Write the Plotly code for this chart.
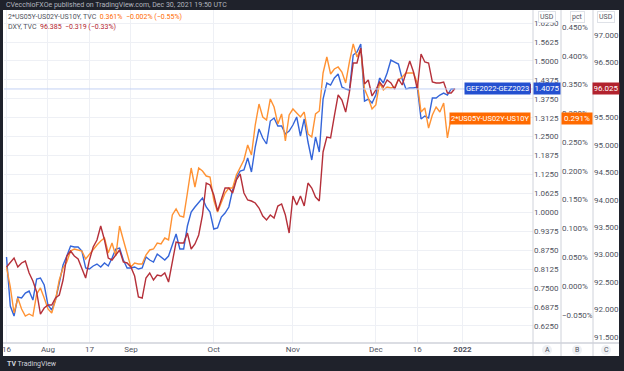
import pandas as pd
import plotly.graph_objects as go

# ---------------- data ----------------
dates = pd.bdate_range("2021-07-16", "2021-12-30")

# GEF2022-GEZ2023 (USD, left-most right axis "A")
ed_spread = [
    0.8527, 0.6909, 0.6579, 0.7206, 0.7173, 0.7338, 0.7404, 0.7107, 0.7801, 0.7834,
    0.7603, 0.6942, 0.6777, 0.7107, 0.7669, 0.8263, 0.8560, 0.8890, 0.8857, 0.8857,
    0.8725, 0.8164, 0.8131, 0.8230, 0.8296, 0.8197, 0.8329, 0.8230, 0.8494, 0.8791,
    0.8824, 0.8428, 0.8164, 0.8164, 0.8197, 0.8131, 0.8164, 0.8527, 0.8428, 0.8362,
    0.8626, 0.8527, 0.8428, 0.8560, 0.8890, 0.9286, 0.8791, 0.8791, 0.9550, 1.0013,
    1.0178, 1.0310, 1.0475, 1.0178, 1.0013, 0.9451, 0.9484, 0.9848, 0.9980, 1.0178,
    1.0739, 1.1135, 1.1366, 1.1399, 1.1795, 1.1333, 1.2159, 1.2753, 1.2456, 1.2258,
    1.3017, 1.3116, 1.2852, 1.2852, 1.2588, 1.2687, 1.2885, 1.3149, 1.2522, 1.3083,
    1.2324, 1.1730, 1.2489, 1.1993, 1.3743, 1.4271, 1.4205, 1.4436, 1.4569, 1.4139,
    1.4074, 1.4040, 1.5196, 1.5295, 1.5559, 1.3677, 1.3743, 1.3611, 1.3875, 1.4436,
    1.4271, 1.4602, 1.5031, 1.4965, 1.4899, 1.4403, 1.4074, 1.4107, 1.4107, 1.4139,
    1.3083, 1.3182, 1.3116, 1.3776, 1.3776, 1.3875, 1.3941, 1.3875, 1.4074, 1.4075,
]

# 2*US05Y-US02Y-US10Y (pct, axis "B")
yield_fly = [
    0.0330, -0.0017, -0.0469, -0.0208, -0.0399, -0.0521, -0.0486, -0.0521, -0.0139, -0.0034,
    -0.0208, -0.0399, -0.0469, -0.0243, 0.0105, 0.0313, 0.0417, 0.0608, 0.0643, 0.0626,
    0.0608, 0.0469, 0.0556, 0.0643, 0.0713, 0.0782, 0.0834, 0.0574, 0.0747, 0.0522,
    0.1043, 0.0800, 0.0539, 0.0330, 0.0400, 0.0383, 0.0383, 0.0539, 0.0626, 0.0643,
    0.0747, 0.0730, 0.0834, 0.0800, 0.1234, 0.1338, 0.1217, 0.1199, 0.1616, 0.2050,
    0.1720, 0.2050, 0.1998, 0.1911, 0.1894, 0.1494, 0.1286, 0.1460, 0.1616, 0.1703,
    0.1703, 0.1929, 0.2068, 0.2189, 0.2450, 0.2276, 0.2797, 0.3162, 0.2936, 0.2884,
    0.3249, 0.3110, 0.2815, 0.2989, 0.2519, 0.2971, 0.3075, 0.3006, 0.2936, 0.3023,
    0.2641, 0.2589, 0.2989, 0.3041, 0.3701, 0.3979, 0.3683, 0.3770, 0.3805, 0.3718,
    0.3527, 0.3892, 0.4205, 0.3979, 0.4118, 0.3423, 0.3267, 0.3075, 0.3145, 0.3527,
    0.3406, 0.3458, 0.3440, 0.3458, 0.3579, 0.3631, 0.3701, 0.3701, 0.3701, 0.3527,
    0.3023, 0.3093, 0.2745, 0.2971, 0.3110, 0.3023, 0.3180, 0.2572, 0.2936, 0.2910,
]

# DXY (USD, axis "C")
dxy = [
    92.774, 92.847, 92.938, 92.774, 92.847, 92.883, 92.665, 92.519, 92.319, 91.918,
    92.027, 92.082, 92.082, 92.209, 92.264, 92.537, 92.974, 93.066, 92.974, 92.920,
    92.756, 92.574, 92.902, 93.138, 93.266, 93.521, 93.266, 92.938, 92.902, 92.993,
    93.084, 92.865, 92.847, 92.774, 92.610, 92.228, 92.209, 92.574, 92.665, 92.537,
    92.628, 92.610, 92.665, 92.501, 92.865, 93.229, 93.211, 93.211, 93.393, 93.102,
    93.193, 93.357, 93.721, 94.304, 94.268, 94.086, 93.794, 93.995, 94.213, 94.213,
    94.122, 94.359, 94.468, 94.122, 93.995, 93.976, 93.940, 93.849, 93.703, 93.630,
    93.721, 93.667, 93.885, 93.922, 93.721, 93.393, 94.067, 93.903, 94.067, 93.885,
    94.304, 94.213, 94.049, 93.976, 94.869, 95.142, 95.124, 95.525, 95.907, 95.816,
    95.597, 95.962, 96.490, 96.490, 96.763, 96.107, 96.180, 95.889, 95.998, 96.144,
    96.053, 96.180, 96.126, 96.016, 96.199, 96.089, 96.326, 96.526, 96.326, 96.016,
    96.654, 96.508, 96.490, 96.144, 96.126, 96.126, 96.144, 95.944, 95.944, 96.025,
]

x_tick_dates = ["2021-07-16", "2021-08-02", "2021-08-17", "2021-09-01", "2021-10-01",
                "2021-11-01", "2021-12-01", "2021-12-16", "2022-01-03"]
x_tick_labels = ["16", "Aug", "17", "Sep", "Oct", "Nov", "Dec", "16", "<b>2022</b>"]

name_a = "GEF2022-GEZ2023"
name_b = "2*US05Y-US02Y-US10Y"
name_c = "DXY"

# ---------------- styling ----------------
W, H = 624, 371
def fx(p):
    return p / W
def fy(p):
    return 1 - p / H

BLUE = "#3465d9"
BLUE_LBL = "#2450d0"
ORANGE = "#ff9233"
ORANGE_LBL = "#ff6a00"
RED = "#b5303a"
RED_LBL = "#b2222e"
DARK = "#1f222b"
GRID = "#eef0f5"
SEP = "#cfd2da"
TXT = "#50535e"
FONT = "Roboto"

PLOT_L, PLOT_R, PLOT_T, PLOT_B = 4, 533, 10, 343
AX_B, AX_C, RIGHT = 561, 593, 619

fig = go.Figure()
fig.add_trace(go.Scatter(x=dates, y=yield_fly, yaxis="y2", mode="lines",
                         line=dict(color=ORANGE, width=1.4), name=name_b))
fig.add_trace(go.Scatter(x=dates, y=dxy, yaxis="y3", mode="lines",
                         line=dict(color=RED, width=1.4), name=name_c))
fig.add_trace(go.Scatter(x=dates, y=ed_spread, yaxis="y", mode="lines",
                         line=dict(color=BLUE, width=1.4), name=name_a))

ydom = [fy(PLOT_B), fy(PLOT_T)]
tickfont = dict(family=FONT, size=8, color=TXT)

fig.update_layout(
    template="none",
    width=W, height=H,
    margin=dict(l=0, r=0, t=0, b=0, pad=0),
    paper_bgcolor=DARK,
    plot_bgcolor="white",
    showlegend=False,
    font=dict(family=FONT, size=8, color=TXT),
    xaxis=dict(
        domain=[fx(PLOT_L), fx(PLOT_R)],
        type="date",
        range=["2021-07-15 08:00", "2022-01-27 17:00"],
        rangebreaks=[dict(bounds=["sat", "mon"])],
        tickvals=x_tick_dates, ticktext=x_tick_labels,
        tickfont=tickfont, ticks="", showgrid=True, gridcolor=GRID, gridwidth=1,
        showline=False, zeroline=False, automargin=False,
    ),
    yaxis=dict(
        domain=ydom, side="right", anchor="free", position=fx(PLOT_R),
        range=[0.5688, 1.6682], tick0=0.625, dtick=0.0625, tickformat=".4f",
        tickfont=tickfont, ticks="", showgrid=True, gridcolor=GRID,
        zeroline=False, showline=False, automargin=False,
    ),
    yaxis2=dict(
        domain=ydom, side="right", anchor="free", overlaying="y", position=fx(AX_B),
        range=[-0.0990, 0.4795], tick0=0, dtick=0.05, tickformat=".3f", ticksuffix="%",
        tickfont=tickfont, ticks="", showgrid=False, zeroline=False, showline=False,
        automargin=False,
    ),
    yaxis3=dict(
        domain=ydom, side="right", anchor="free", overlaying="y", position=fx(AX_C),
        range=[91.390, 97.455], tick0=91.5, dtick=0.5, tickformat=".3f",
        tickfont=tickfont, ticks="", showgrid=False, zeroline=False, showline=False,
        automargin=False,
    ),
)

shapes = []
# white chart panel
shapes.append(dict(type="rect", xref="paper", yref="paper", layer="below",
                   x0=fx(3), x1=fx(RIGHT), y0=fy(356), y1=fy(PLOT_T),
                   fillcolor="white", line=dict(width=0)))
# separators
for xp in (PLOT_R, AX_B, AX_C):
    shapes.append(dict(type="line", xref="paper", yref="paper",
                       x0=fx(xp), x1=fx(xp), y0=fy(356), y1=fy(PLOT_T),
                       line=dict(color=SEP, width=1)))
shapes.append(dict(type="line", xref="paper", yref="paper",
                   x0=fx(3), x1=fx(RIGHT), y0=fy(PLOT_B), y1=fy(PLOT_B),
                   line=dict(color=SEP, width=1.5)))
# last price line of the blue series
shapes.append(dict(type="line", xref="paper", yref="y",
                   x0=fx(PLOT_L), x1=fx(PLOT_R), y0=ed_spread[-1], y1=ed_spread[-1],
                   line=dict(color="#c3d1f4", width=1)))
# hidden DXY name tag behind blue tag
shapes.append(dict(type="rect", xref="paper", yref="paper",
                   x0=fx(516), x1=fx(531), y0=fy(93), y1=fy(84),
                   fillcolor=RED_LBL, line=dict(width=0)))
# A / B / C circles
for cx in (547, 577, 606):
    shapes.append(dict(type="circle", xref="paper", yref="paper",
                       x0=fx(cx - 5), x1=fx(cx + 5), y0=fy(355), y1=fy(345),
                       fillcolor="#eef0f4", line=dict(width=0)))
fig.update_layout(shapes=shapes)

ann = []
def tag(text, x, xanchor, y, yref, bg, width=None, size=7.5):
    d = dict(text=text, xref="paper", x=fx(x), xanchor=xanchor, yref=yref, y=y,
             yanchor="middle", showarrow=False, bgcolor=bg, borderpad=1,
             font=dict(family=FONT, size=size, color="white"))
    if width:
        d["width"] = width
    ann.append(d)

tag(name_a, 531, "right", ed_spread[-1], "y", BLUE_LBL)
tag(name_b, 531, "right", yield_fly[-1], "y2", ORANGE_LBL)
tag(f"{ed_spread[-1]:.4f}", 547, "center", ed_spread[-1], "y", BLUE_LBL, width=24, size=8)
tag(f"{yield_fly[-1]:.3f}%", 577, "center", yield_fly[-1], "y2", ORANGE_LBL, width=28, size=8)
tag(f"{dxy[-1]:.3f}", 606, "center", dxy[-1], "y3", RED_LBL, width=24, size=8)

# unit badges
for cx, t in ((547, "USD"), (577, "pct"), (606, "USD")):
    ann.append(dict(text=t, xref="paper", yref="paper", x=fx(cx), y=fy(17),
                    xanchor="center", yanchor="middle", showarrow=False,
                    bgcolor="white", bordercolor="#dfe2e8", borderwidth=1, borderpad=1,
                    font=dict(family=FONT, size=7, color=TXT)))
for cx, t in ((547, "A"), (577, "B"), (606, "C")):
    ann.append(dict(text=t, xref="paper", yref="paper", x=fx(cx), y=fy(350),
                    xanchor="center", yanchor="middle", showarrow=False,
                    font=dict(family=FONT, size=7, color=TXT)))

# legend header lines
ann.append(dict(text=(f"{name_b}, TVC  <span style='color:{ORANGE_LBL}'>0.361%"
                      "  \u22120.002% (\u22120.55%)</span>"),
                xref="paper", yref="paper", x=fx(6), y=fy(17), xanchor="left",
                yanchor="middle", showarrow=False,
                font=dict(family=FONT, size=7, color=TXT)))
ann.append(dict(text=(f"{name_c}, TVC  <span style='color:{RED_LBL}'>96.385"
                      "  \u22120.319 (\u22120.33%)</span>"),
                xref="paper", yref="paper", x=fx(6), y=fy(27), xanchor="left",
                yanchor="middle", showarrow=False,
                font=dict(family=FONT, size=7, color=TXT)))
# top bar and footer
ann.append(dict(text="CVecchioFXOe published on TradingView.com, Dec 30, 2021 19:50 UTC",
                xref="paper", yref="paper", x=fx(4), y=fy(5), xanchor="left",
                yanchor="middle", showarrow=False,
                font=dict(family=FONT, size=7, color="#b2b5be")))
ann.append(dict(text="<b>TV</b> TradingView", xref="paper", yref="paper",
                x=fx(5), y=fy(364), xanchor="left", yanchor="middle", showarrow=False,
                font=dict(family=FONT, size=7, color="#d1d4dc")))
fig.update_layout(annotations=ann)

fig.write_html(
    "out.html",
    config={"displayModeBar": False},
    post_script=("document.body.style.margin='0';"
                 "document.body.style.background='" + DARK + "';"),
)
